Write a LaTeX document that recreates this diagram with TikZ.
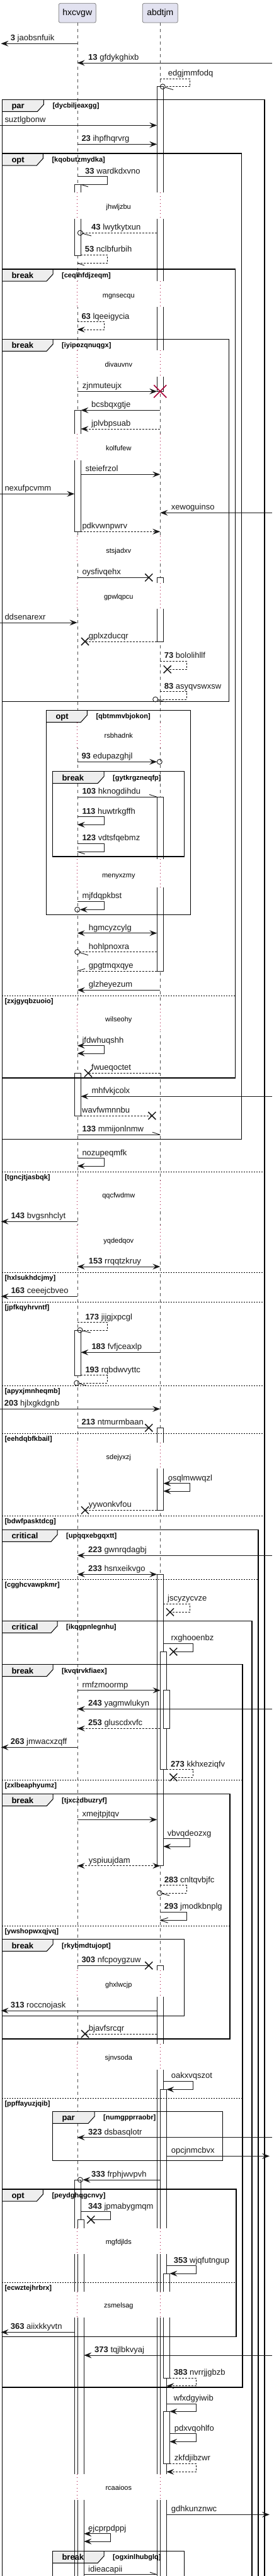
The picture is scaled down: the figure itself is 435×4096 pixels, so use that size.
\documentclass[tikz,border=0pt]{standalone}
\usepackage{fontspec}
\setmainfont{Liberation Sans}
\usetikzlibrary{arrows.meta}
\definecolor{ink}{HTML}{181818}
\definecolor{tabc}{HTML}{EEEEEE}
\definecolor{partc}{HTML}{E2E2F0}
\definecolor{dlc}{HTML}{A80036}
\newcounter{lc}
\def\xH{122.7}\def\xHl{118.3}\def\xHr{128.3}\def\xHrr{133.3}
\def\xA{254.3}\def\xAl{249.3}\def\xAr{259.3}\def\xArr{264.3}\def\xArrr{269.3}
\newcommand\lb[3]{\stepcounter{lc}\node[lab] (t\arabic{lc}) at (#1,{#2-4.5}) {#3};}
\newcommand\xx[2]{\draw[xm] ({#1-6},{#2-6}) -- ({#1+6},{#2+6}) ({#1-6},{#2+6}) -- ({#1+6},{#2-6});}
\newcommand\oc[2]{\draw[msg,solid] (#1,#2) circle[radius=4pt];}
\newcommand\hl[4]{\draw[msg,solid] (#1,#2) -- (#3,#4);}
\newcommand\act[4]{\filldraw[actv] (#1,#2) rectangle (#3,#4);}
\newcommand\tabf[3]{\fill[tabc] (#1,#2) -- ({#1+#3},#2) -- ({#1+#3},{#2+8}) -- ({#1+#3-10},{#2+19}) -- (#1,{#2+19}) -- cycle;}
\newcommand\frm[7]{\draw[frame] (#1,#2) rectangle (#3,#4);
  \draw[frame,line width=1pt] (#1,{#2+19}) -- ({#1+#5-10},{#2+19}) -- ({#1+#5},{#2+8}) -- ({#1+#5},#2);
  \node[ftab] at ({#1+15},{#2+14.5}) {#6};
  \node[fcond] at ({#1+#5+14},{#2+13.5}) {#7};}
\newcommand\sepl[3]{\draw[sepline] (3.3,#1) -- (#2,#1); \node[fcond] at (7.3,{#1+12}) {#3};}
\newcommand\dly[4]{\fill[white] (115.5,#1) rectangle (136.5,#2); \fill[white] (246.5,#1) rectangle (272.5,#2);
  \draw[dl] (\xH,#1) -- (\xH,#2); \draw[dl] (\xA,#1) -- (\xA,#2);
  \node[dtext] at (188.3,{#3+4}) {#4};}
\begin{document}
\begin{tikzpicture}[x=1pt,y=-1pt,
  >={Stealth[length=12pt,width=9pt,inset=4.5pt]},
  msg/.style={draw=ink,line width=0.9pt},
  dsh/.style={dash pattern=on 3pt off 2pt},
  xm/.style={draw=ink,line width=1.5pt},
  actv/.style={fill=white,draw=ink,line width=0.9pt},
  frame/.style={draw=black,line width=1.5pt},
  sepline/.style={draw=black,line width=0.9pt,dash pattern=on 2pt off 2pt},
  dl/.style={draw=dlc,line width=1pt,dash pattern=on 1pt off 4.5pt},
  life/.style={draw=ink!75,line width=0.6pt,dash pattern=on 5pt off 5pt},
  lab/.style={anchor=base west,inner sep=0pt,font=\fontsize{13}{15}\selectfont,text=ink},
  ftab/.style={anchor=base west,inner sep=0pt,font=\fontsize{13}{15}\selectfont\bfseries},
  fcond/.style={anchor=base west,inner sep=0pt,font=\fontsize{11}{13}\selectfont\bfseries},
  dtext/.style={anchor=base,inner sep=0pt,font=\fontsize{11}{13}\selectfont},
  part/.style={draw=ink!60,fill=partc,rounded corners=2.5pt,line width=0.7pt,inner sep=0pt,font=\fontsize{14}{16}\selectfont}]
\useasboundingbox (0,0) rectangle (435,4096);
\clip (0,0) rectangle (435,4096);
% participants and lifelines
\node[part,minimum width=59pt,minimum height=30.7pt] (p1) at (122.8,20.65) {hxcvgw};
\node[part,minimum width=56pt,minimum height=30.7pt] (p2) at (254.3,20.65) {abdtjm};
\draw[life] (p1.south) -- ++(0,4080);
\draw[life] (p2.south) -- ++(0,4080);
% tab fills
\tabf{3.3}{158.3}{66}
\tabf{3.3}{244}{65}
\tabf{3.3}{428}{80.7}
\tabf{3.3}{539.3}{80.7}
\tabf{73.3}{1129.3}{65}
\tabf{83.3}{1226.7}{81.7}
\tabf{3.3}{2432.3}{87.7}
\tabf{3.3}{2577.3}{87.7}
\tabf{3.3}{2646.7}{80.7}
\tabf{3.3}{2852.7}{80.7}
\tabf{3.3}{3083.7}{80.7}
\tabf{83.3}{3357.3}{66.7}
\tabf{3.3}{3481}{65}
\tabf{83.3}{4056.3}{81.7}
% activations
\act{\xHl}{293.3}{\xHr}{406}
\act{\xHl}{652.3}{\xHr}{845.3}
\act{\xHl}{1706.3}{\xHr}{1774}
\act{\xHl}{2115}{\xHr}{2187.3}
\act{\xHl}{3466}{\xHr}{4130}
\act{123.3}{3529.3}{\xHrr}{4130}
\act{\xAl}{137.7}{\xAr}{622.3}
\act{\xAl}{918.3}{\xAr}{1020}
\act{\xAl}{1267.3}{\xAr}{1544}
\act{\xAl}{2270.3}{\xAr}{2401.3}
\act{\xAl}{2503.3}{\xAr}{2966.7}
\act{254.7}{2626.3}{\xArr}{2813.7}
\act{259.7}{2687.7}{\xArrr}{2748.3}
\act{\xAl}{3125.3}{\xAr}{4130}
\act{254.7}{3322.3}{\xArr}{4130}
\act{259.7}{3615}{\xArrr}{3781}
\act{259.7}{3834.3}{\xArrr}{3917.3}
% delays
\dly{306}{347.7}{328.3}{jhwljzbu}
\dly{447}{487.7}{469.3}{mgnsecqu}
\dly{557}{599.3}{579}{divauvnv}
\dly{690}{732.3}{712.3}{kolfufew}
\dly{852}{894.7}{875.3}{stsjadxv}
\dly{927}{968}{948.3}{gpwlqpcu}
\dly{1149}{1189.3}{1169.3}{rsbhadnk}
\dly{1366}{1410.7}{1391.3}{menyxzmy}
\dly{1598}{1639.7}{1620}{wilseohy}
\dly{1876.7}{1921.7}{1900}{qqcfwdmw}
\dly{1948}{1993.3}{1972}{yqdedqov}
\dly{2293.7}{2335.3}{2316.3}{sdejyxzj}
\dly{3133}{3174.7}{3155.3}{ghxlwcjp}
\dly{3249.7}{3291.3}{3271.3}{sjnvsoda}
\dly{3542.7}{3584.3}{3564.3}{mgfdjlds}
\dly{3644.3}{3685.3}{3665.3}{zsmelsag}
\dly{3933.7}{3974.7}{3955.3}{rcaaioos}
% frames
\frm{3.3}{158.3}{420}{4130}{66}{par}{[dycbiljeaxgg]}
\frm{3.3}{244}{383.3}{1811.7}{65}{opt}{[kqobutzmydka]}
\frm{3.3}{428}{373.3}{1714}{80.7}{break}{[ceqlhfdjzeqm]}
\frm{3.3}{539.3}{363.3}{1115.3}{80.7}{break}{[iyipozqnuqgx]}
\frm{73.3}{1129.3}{302.7}{1454.7}{65}{opt}{[qbtmmvbjokon]}
\frm{83.3}{1226.7}{292.7}{1362}{81.7}{break}{[gytkrgzneqfp]}
\frm{3.3}{2432.3}{410}{4130}{87.7}{critical}{[upqqxebgqxtt]}
\frm{3.3}{2577.3}{400}{4130}{87.7}{critical}{[ikqgpnlegnhu]}
\frm{3.3}{2646.7}{385}{3796}{80.7}{break}{[kvqtrvkfiaex]}
\frm{3.3}{2852.7}{365}{3242}{80.7}{break}{[tjxczdbuzryf]}
\frm{3.3}{3083.7}{292.7}{3205.3}{80.7}{break}{[rkybmdtujopt]}
\frm{83.3}{3357.3}{353.3}{3435.7}{66.7}{par}{[numgpprraobr]}
\frm{3.3}{3481}{375}{3715.7}{65}{opt}{[peydghqgcnvy]}
\frm{83.3}{4056.3}{292.7}{4130}{81.7}{break}{[ogxinlhubglq]}
% separators
\sepl{1583}{373.3}{[zxjgyqbzuoio]}
\sepl{1863.3}{420}{[tgncjtjasbqk]}
\sepl{2023.3}{420}{[hxlsukhdcjmy]}
\sepl{2070.3}{420}{[jpfkqyhrvntf]}
\sepl{2203}{420}{[apyxjmnheqmb]}
\sepl{2279.7}{420}{[eehdqbfkbail]}
\sepl{2410}{420}{[bdwfpasktdcg]}
\sepl{2511.7}{410}{[cgghcvawpkmr]}
\sepl{2830.3}{385}{[zxlbeaphyumz]}
\sepl{3062.7}{365}{[ywshopwxqjvq]}
\sepl{3336.3}{385}{[ppffayuzjqib]}
\sepl{3629.3}{375}{[ecwztejhrbrx]}
% messages
\draw[msg,->] (\xH,69.3) -- (1.5,69.3); \lb{16.7}{69.3}{\textbf{3} jaobsnfuik}
\draw[msg,->] (432,100) -- (\xH,100); \lb{140}{100}{\textbf{13} gfdykghixb}
\draw[msg,dsh] (\xA,125) -- (301.7,125) -- (301.7,137.7) -- (262.3,137.7); \oc{258.3}{137.7} \hl{261.7}{138.7}{275}{142.7} \lb{266.7}{125}{edgjmmfodq}
\draw[msg,->] (0,199.3) -- (\xAl,199.3); \lb{7.3}{199.3}{suztlgbonw}
\draw[msg,->] (\xH,229.3) -- (\xAl,229.3); \lb{129.3}{229.3}{\textbf{23} ihpfhqrvrg}
\draw[msg] (\xH,280.7) -- (170.7,280.7) -- (170.7,293.3) -- (\xHr,293.3); \hl{\xHr}{293.3}{140}{297} \lb{135}{280.7}{\textbf{33} wardkdxvno}
\draw[msg,dsh] (\xAl,370.3) -- (131.3,370.3); \oc{127.3}{370.3} \hl{131}{371.3}{145}{375} \lb{145}{370.3}{\textbf{43} lwytkytxun}
\draw[msg,dsh] (\xHr,405.3) -- (170.7,405.3) -- (170.7,418.3) -- (\xH,418.3); \hl{\xH}{418.3}{134}{422} \lb{134.7}{405.3}{\textbf{53} nclbfurbih}
\draw[msg,dsh,->] (\xH,511.7) -- (165.7,511.7) -- (165.7,524) -- (\xH,524); \lb{129.3}{511.7}{\textbf{63} lqeeigycia}
\draw[msg,->] (\xH,622.3) -- (\xAl,622.3); \lb{130.7}{622.3}{zjnmuteujx}
\draw[draw=dlc,line width=1.6pt] (244.3,612.3) -- (264.3,632.3) (244.3,632.3) -- (264.3,612.3);
\draw[msg,->] (\xA,652.3) -- (\xHr,652.3); \lb{145}{652.3}{bcsbqxgtje}
\draw[msg,dsh,->] (\xA,682) -- (\xHr,682); \lb{145}{682}{jplvbpsuab}
\draw[msg,->] (\xHr,754.3) -- (\xA,754.3); \lb{135.3}{754.3}{steiefrzol}
\draw[msg,->] (0,785.3) -- (\xHl,785.3); \lb{7.3}{785.3}{nexufpcvmm}
\draw[msg,->] (432,815.3) -- (\xA,815.3); \lb{271.7}{815.3}{xewoguinso}
\draw[msg,dsh,->] (\xHr,845.3) -- (\xA,845.3); \lb{130.3}{845.3}{pdkvwnpwrv}
\draw[msg] (\xH,918.3) -- (236.3,918.3); \xx{236.3}{918.3} \lb{130.3}{918.3}{oysfivqehx}
\draw[msg,->] (0,990) -- (\xH,990); \lb{7.3}{990}{ddsenarexr}
\draw[msg,dsh] (\xAl,1020) -- (135,1020); \xx{135}{1020} \lb{140.7}{1020}{gplxzducqr}
\draw[msg,dsh] (\xA,1051.3) -- (296.7,1051.3) -- (296.7,1064.3) -- (265.7,1064.3); \xx{265.7}{1064.3} \lb{260.7}{1051.3}{\textbf{73} bololihllf}
\draw[msg,dsh] (\xA,1099.7) -- (296.7,1099.7) -- (296.7,1112) -- (250.7,1112); \oc{246.7}{1112} \hl{250.5}{1113}{263.3}{1116} \lb{260.7}{1099.7}{\textbf{83} asyqvswxsw}
\draw[msg,->] (\xH,1211.3) -- (249.3,1211.3); \oc{253.3}{1211.3} \lb{129.3}{1211.3}{\textbf{93} edupazghjl}
\draw[msg] (\xH,1267.3) -- (\xAl,1267.3); \hl{\xAl}{1267.3}{237}{1263.3} \lb{130.3}{1267.3}{\textbf{103} hknogdihdu}
\draw[msg,->] (\xH,1298.7) -- (165.7,1298.7) -- (165.7,1311.3) -- (\xH,1311.3); \lb{130.3}{1298.7}{\textbf{113} huwtrkgffh}
\draw[msg] (\xH,1341.3) -- (165.7,1341.3) -- (165.7,1354) -- (\xH,1354); \hl{\xH}{1354}{134.7}{1358} \lb{130.3}{1341.3}{\textbf{123} vdtsfqebmz}
\draw[msg,->] (\xH,1433.3) -- (165.7,1433.3) -- (165.7,1446.3) -- (126.7,1446.3); \oc{\xH}{1446.3} \lb{130.3}{1433.3}{mjfdqpkbst}
\draw[msg,<->] (\xH,1483.7) -- (\xAl,1483.7); \lb{140.7}{1483.7}{hgmcyzcylg}
\draw[msg,dsh] (\xAl,1513.7) -- (126.7,1513.7); \oc{\xH}{1513.7} \hl{126.7}{1514.7}{140}{1518.7} \lb{140.7}{1513.7}{hohlpnoxra}
\draw[msg,dsh] (\xAl,1544) -- (\xH,1544); \hl{\xH}{1544}{135}{1540.3} \lb{140.7}{1544}{gpgtmqxqye}
\draw[msg,->] (\xA,1574.3) -- (\xH,1574.3); \lb{140.7}{1574.3}{glzheyezum}
\draw[msg,<->] (\xH,1662.7) -- (165.7,1662.7) -- (165.7,1675) -- (\xH,1675); \lb{130.3}{1662.7}{jfdwhuqshh}
\draw[msg,dsh] (\xA,1706.3) -- (140,1706.3); \xx{140}{1706.3} \lb{145}{1706.3}{fwueqoctet}
\draw[msg,->] (432,1743.3) -- (\xHr,1743.3); \lb{145.3}{1743.3}{mhfvkjcolx}
\draw[msg,dsh] (\xHr,1774) -- (241.3,1774); \xx{241.3}{1774} \lb{130}{1774}{wavfwmnnbu}
\draw[msg] (\xH,1804.3) -- (\xA,1804.3); \hl{\xA}{1804.3}{242}{1800.3} \lb{130.3}{1804.3}{\textbf{133} mmijonlnmw}
\draw[msg,->] (\xH,1841.7) -- (165.7,1841.7) -- (165.7,1854) -- (\xH,1854); \lb{130.3}{1841.7}{nozupeqmfk}
\draw[msg,->] (\xH,1942.3) -- (1.5,1942.3); \lb{17.3}{1942.3}{\textbf{143} bvgsnhclyt}
\draw[msg,<->] (\xH,2014) -- (\xA,2014); \lb{140.7}{2014}{\textbf{153} rrqqtzkruy}
\draw[msg,->] (\xH,2061.3) -- (1.5,2061.3); \lb{17.3}{2061.3}{\textbf{163} ceeejcbveo}
\draw[msg,dsh] (\xH,2102.7) -- (170.7,2102.7) -- (170.7,2115) -- (131,2115); \oc{127}{2115} \hl{130.7}{2116}{144}{2119} \lb{135.3}{2102.7}{\textbf{173} jijgjxpcgl}
\draw[msg,->] (\xA,2150.3) -- (\xHr,2150.3); \lb{145.3}{2150.3}{\textbf{183} fvfjceaxlp}
\draw[msg,dsh] (\xHr,2186.7) -- (170.7,2186.7) -- (170.7,2199) -- (125.7,2199); \oc{121.7}{2199} \hl{125.4}{2200}{136.7}{2203} \lb{135.3}{2186.7}{\textbf{193} rqbdwvyttc}
\draw[msg,->] (0,2240.3) -- (\xA,2240.3); \lb{6.7}{2240.3}{\textbf{203} hjlxgkdgnb}
\draw[msg] (\xH,2270.3) -- (236.3,2270.3); \xx{236.3}{2270.3} \lb{129.3}{2270.3}{\textbf{213} ntmurmbaan}
\draw[msg,<->] (\xAr,2358.7) -- (301.7,2358.7) -- (301.7,2371) -- (\xAr,2371); \lb{266.7}{2358.7}{osqlmwwqzl}
\draw[msg,dsh] (\xAl,2401.3) -- (135,2401.3); \xx{135}{2401.3} \lb{140.7}{2401.3}{yywonkvfou}
\draw[msg,->] (432,2473.3) -- (\xH,2473.3); \lb{140}{2473.3}{\textbf{223} gwnrqdagbj}
\draw[msg,<->] (\xH,2503.3) -- (\xAl,2503.3); \lb{140}{2503.3}{\textbf{233} hsnxeikvgo}
\draw[msg,dsh] (\xAr,2550.3) -- (301.7,2550.3) -- (301.7,2563.3) -- (270,2563.3); \xx{270}{2563.3} \lb{266}{2550.3}{jscyzycvze}
\draw[msg] (\xAr,2613.3) -- (306.7,2613.3) -- (306.7,2626.3) -- (275.3,2626.3); \xx{275.3}{2626.3} \lb{271.3}{2613.3}{rxghooenbz}
\draw[msg,->] (\xH,2687.7) -- (254.7,2687.7); \lb{130.3}{2687.7}{rmfzmoormp}
\draw[msg,->] (432,2717.3) -- (\xH,2717.3); \lb{140}{2717.3}{\textbf{243} yagmwlukyn}
\draw[msg,dsh,->] (\xA,2748.3) -- (\xH,2748.3); \lb{140}{2748.3}{\textbf{253} gluscdxvfc}
\draw[msg,->] (\xH,2778.3) -- (1.5,2778.3); \lb{16.7}{2778.3}{\textbf{263} jmwacxzqff}
\draw[msg,dsh] (\xArr,2813.7) -- (306.7,2813.7) -- (306.7,2826) -- (275.3,2826); \xx{275.3}{2826} \lb{271}{2813.7}{\textbf{273} kkhxeziqfv}
\draw[msg,->] (\xH,2893.3) -- (\xAl,2893.3); \lb{130.3}{2893.3}{xmejtpjtqv}
\draw[msg,->] (\xAr,2923.7) -- (301.7,2923.7) -- (301.7,2936) -- (\xAr,2936); \lb{265.7}{2923.7}{vbvqdeozxg}
\draw[msg,dsh,<->] (\xH,2966.7) -- (\xA,2966.7); \lb{140.7}{2966.7}{yspiuujdam}
\draw[msg,dsh] (\xA,2997.7) -- (296.7,2997.7) -- (296.7,3010) -- (257.3,3010); \oc{253.3}{3010} \hl{257}{3011}{269.3}{3014} \lb{260.7}{2997.7}{\textbf{283} cnltqvbjfc}
\draw[msg] (\xA,3040.3) -- (296.7,3040.3) -- (296.7,3053.3) -- (\xA,3053.3); \hl{\xA}{3053.3}{266.7}{3049.3} \hl{\xA}{3053.3}{266.7}{3057.3} \lb{260.7}{3040.3}{\textbf{293} jmodkbnplg}
\draw[msg] (\xH,3125.3) -- (236.3,3125.3); \xx{236.3}{3125.3} \lb{129.3}{3125.3}{\textbf{303} nfcpoygzuw}
\draw[msg,->] (\xAl,3197) -- (1.5,3197); \lb{16.7}{3197}{\textbf{313} roccnojask}
\draw[msg,dsh] (\xAl,3234) -- (135,3234); \xx{135}{3234} \lb{140.7}{3234}{bjavfsrcqr}
\draw[msg,->] (\xAr,3309) -- (306.7,3309) -- (306.7,3322.3) -- (\xArr,3322.3); \lb{271.7}{3309}{oakxvqszot}
\draw[msg,->] (432,3398.7) -- (\xH,3398.7); \lb{140}{3398.7}{\textbf{323} dsbasqlotr}
\draw[msg,->] (\xArr,3428.3) -- (428,3428.3); \lb{271.7}{3428.3}{opcjnmcbvx}
\draw[msg,->] (\xA,3466) -- (131.3,3466); \oc{127.3}{3466} \lb{145}{3466}{\textbf{333} frphjwvpvh}
\draw[msg] (\xHr,3516.7) -- (175.3,3516.7) -- (175.3,3529.3) -- (144.3,3529.3); \xx{144.3}{3529.3} \lb{140}{3516.7}{\textbf{343} jpmabygmqm}
\draw[msg,->] (\xArr,3602.7) -- (311.7,3602.7) -- (311.7,3615) -- (\xArrr,3615); \lb{275.7}{3602.7}{\textbf{353} wjqfutngup}
\draw[msg,->] (\xHl,3708.3) -- (1.5,3708.3); \lb{16.7}{3708.3}{\textbf{363} aiixkkyvtn}
\draw[msg,->] (432,3745) -- (\xHrr,3745); \lb{150}{3745}{\textbf{373} tqjlbkvyaj}
\draw[msg,dsh,->] (\xArrr,3781) -- (311.7,3781) -- (311.7,3793.7) -- (\xArr,3793.7); \lb{275.7}{3781}{\textbf{383} nvrrjjgbzb}
\draw[msg,->] (\xArr,3822) -- (311.7,3822) -- (311.7,3834.3) -- (\xArrr,3834.3); \lb{275.7}{3822}{wfxdgyiwib}
\draw[msg,->] (\xArrr,3869.7) -- (311.7,3869.7) -- (311.7,3882.3) -- (\xArrr,3882.3); \lb{276.7}{3869.7}{pdxvqohlfo}
\draw[msg,dsh,->] (\xArrr,3917.3) -- (311.7,3917.3) -- (311.7,3930.3) -- (\xArr,3930.3); \lb{276.7}{3917.3}{zkfdjibzwr}
\draw[msg,->] (\xArr,3998.3) -- (428,3998.3); \lb{271.7}{3998.3}{gdhkunznwc}
\draw[msg,<->] (\xHrr,4028.7) -- (175.3,4028.7) -- (175.3,4041) -- (\xHrr,4041); \lb{140}{4028.7}{ejcprpdppj}
\draw[msg] (\xHrr,4093.7) -- (\xAl,4093.7); \hl{\xAl}{4093.7}{238}{4090} \lb{140}{4093.7}{idieacapii}
\end{tikzpicture}
\end{document}
